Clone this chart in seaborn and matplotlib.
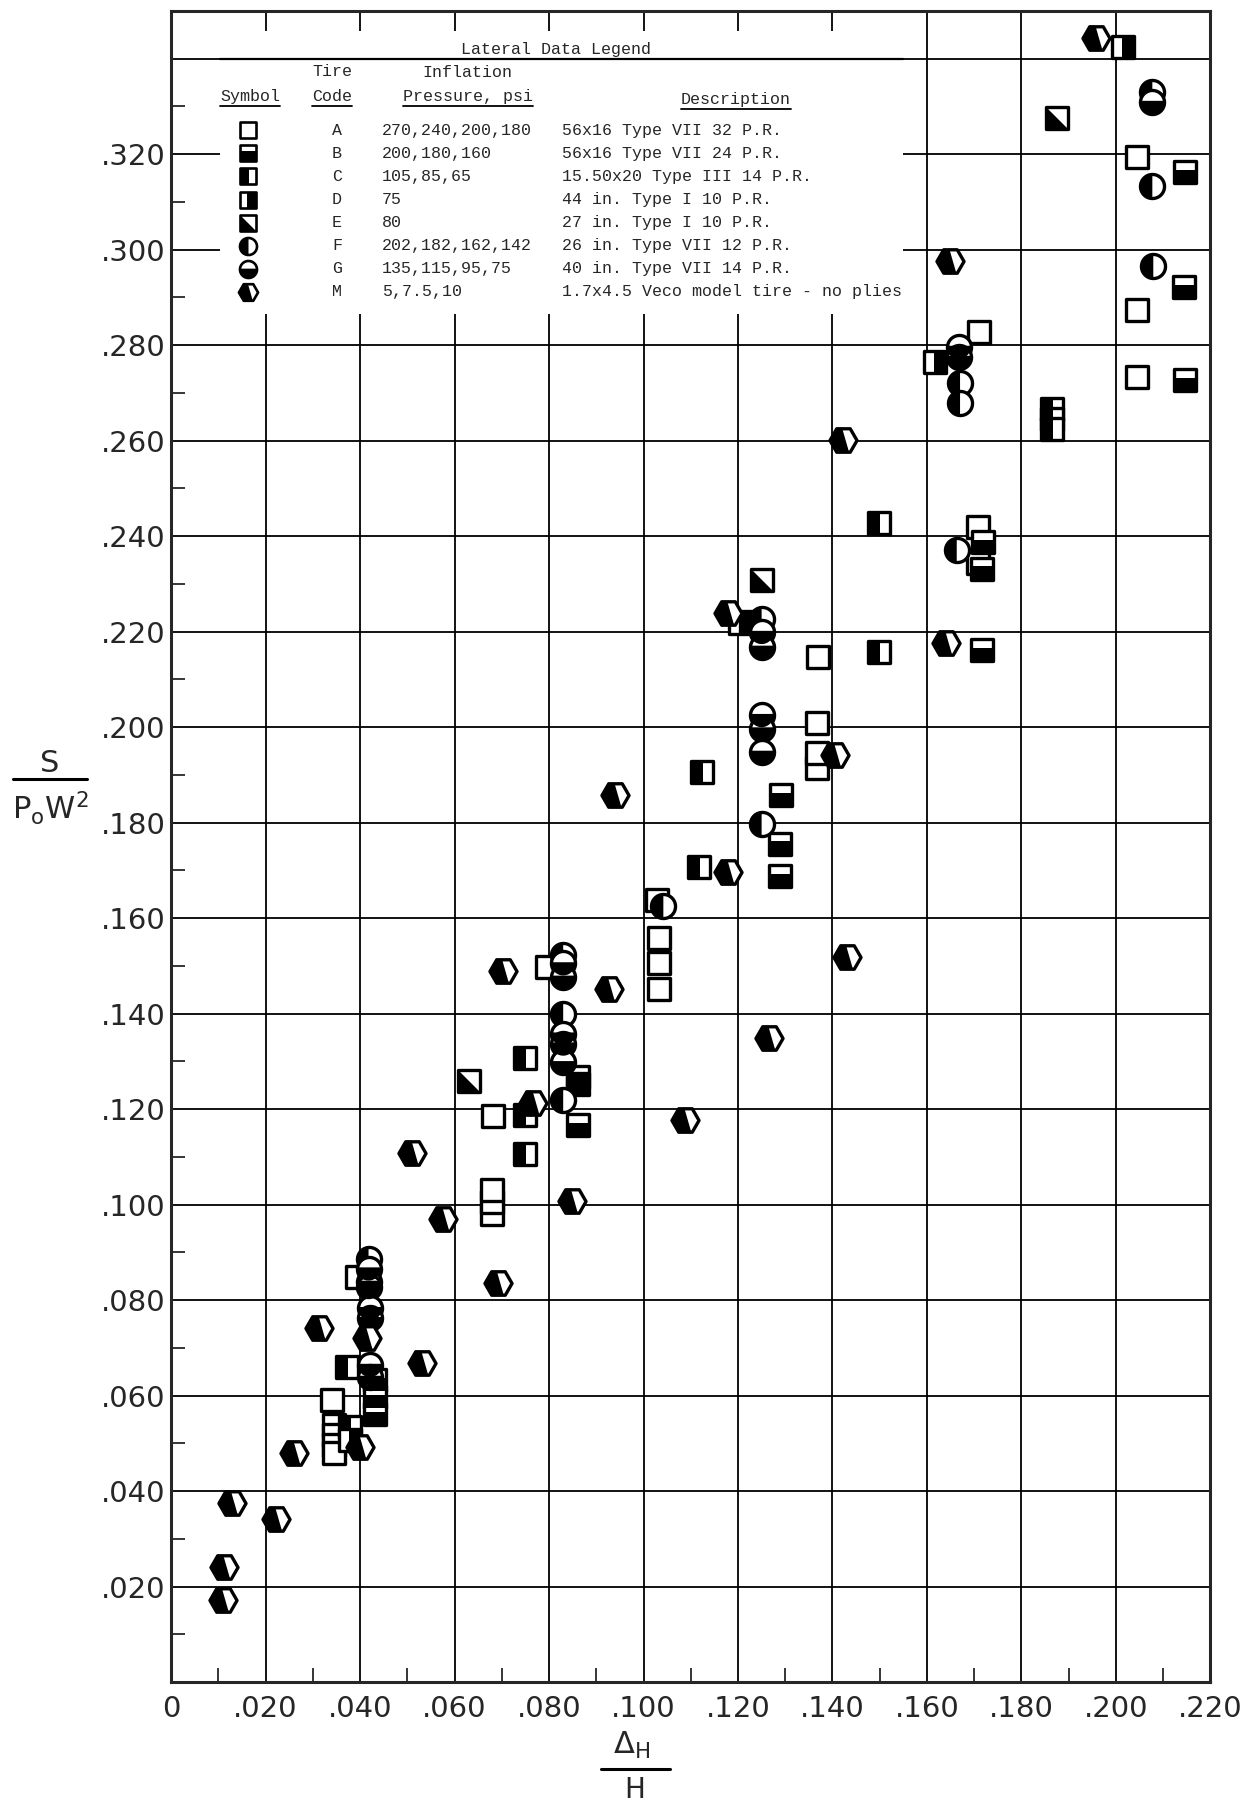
import numpy as np
import pandas as pd
import matplotlib
matplotlib.use("Agg")
import matplotlib.pyplot as plt
from matplotlib.path import Path
from matplotlib.lines import Line2D
from matplotlib.patches import Rectangle
from matplotlib.ticker import MultipleLocator, FuncFormatter
import seaborn as sns

# Data:  x = Delta_H / H ,  y = S / (p0 w^2)
a_x = [0.0341, 0.0344, 0.0344, 0.0344, 0.0344, 0.0393, 0.0679, 0.0679, 0.0679, 0.0682, 0.0795, 0.1029, 0.1033,
       0.1033, 0.1033, 0.1204, 0.1367, 0.1367, 0.1368, 0.1370, 0.1707, 0.1709, 0.1711, 0.2045, 0.2045, 0.2045]
a_y = [0.0591, 0.0538, 0.0517, 0.0496, 0.0479, 0.0849, 0.0981, 0.1006, 0.1030, 0.1185, 0.1497, 0.1638, 0.1558,
       0.1505, 0.1452, 0.2217, 0.1915, 0.1945, 0.2008, 0.2147, 0.2420, 0.2343, 0.2827, 0.3194, 0.2874, 0.2734]

b_x = [0.0432, 0.0432, 0.0432, 0.0862, 0.0862, 0.0862, 0.1289, 0.1289, 0.1291, 0.1716, 0.1716, 0.1719,
       0.2145, 0.2146, 0.2147]
b_y = [0.0632, 0.0597, 0.0562, 0.1268, 0.1252, 0.1166, 0.1688, 0.1756, 0.1858, 0.2161, 0.2332, 0.2388,
       0.2922, 0.3163, 0.2727]

c_x = [0.0372, 0.0379, 0.0749, 0.0749, 0.0749, 0.1118, 0.1123, 0.1228, 0.1499, 0.1499, 0.1864, 0.1864, 0.1864]
c_y = [0.0660, 0.0535, 0.1306, 0.1187, 0.1106, 0.1707, 0.1906, 0.2220, 0.2427, 0.2158, 0.2667, 0.2646, 0.2625]

d_x = [0.0379, 0.1617, 0.2015]
d_y = [0.0506, 0.2765, 0.3425]

e_x = [0.0631, 0.1250, 0.1876]
e_y = [0.1259, 0.2308, 0.3275]

f_x = [0.0418, 0.0830, 0.0830, 0.0830, 0.1042, 0.1250, 0.1250, 0.1663, 0.1670, 0.1670, 0.2077, 0.2077, 0.2079]
f_y = [0.0887, 0.1522, 0.1400, 0.1219, 0.1625, 0.1798, 0.2227, 0.2371, 0.2720, 0.2678, 0.3331, 0.3133, 0.2966]

g_x = [0.0418, 0.0418, 0.0418, 0.0421, 0.0421, 0.0421, 0.0421, 0.0830, 0.0830, 0.0830, 0.0830, 0.0830,
       0.1250, 0.1250, 0.1250, 0.1250, 0.1250, 0.1667, 0.1667, 0.2077]
g_y = [0.0866, 0.0838, 0.0827, 0.0783, 0.0762, 0.0664, 0.0639, 0.1505, 0.1477, 0.1358, 0.1337, 0.1298,
       0.2199, 0.2168, 0.2025, 0.1997, 0.1948, 0.2796, 0.2775, 0.3309]

m_x = [0.0109, 0.0112, 0.0128, 0.0222, 0.0261, 0.0314, 0.0400, 0.0414, 0.0511, 0.0531, 0.0576, 0.0691, 0.0702,
       0.0767, 0.0848, 0.0926, 0.0940, 0.1088, 0.1179, 0.1179, 0.1266, 0.1405, 0.1422, 0.1430, 0.1640, 0.1649, 0.1958]
m_y = [0.0172, 0.0241, 0.0376, 0.0341, 0.0479, 0.0741, 0.0493, 0.0720, 0.1107, 0.0669, 0.0969, 0.0836, 0.1489,
       0.1212, 0.1007, 0.1452, 0.1858, 0.1177, 0.2238, 0.1697, 0.1348, 0.1941, 0.2601, 0.1519, 0.2177, 0.2976, 0.3444]

# legend table text
tire_codes = ["A", "B", "C", "D", "E", "F", "G", "M"]
pressures = ["270,240,200,180", "200,180,160", "105,85,65", "75", "80",
             "202,182,162,142", "135,115,95,75", "5,7.5,10"]
descriptions = ["56x16 Type VII 32 P.R.", "56x16 Type VII 24 P.R.", "15.50x20 Type III 14 P.R.",
                "44 in. Type I 10 P.R.", "27 in. Type I 10 P.R.", "26 in. Type VII 12 P.R.",
                "40 in. Type VII 14 P.R.", "1.7x4.5 Veco model tire - no plies"]


### Marker shapes (outline + filled part)
### =====================================
def poly(pts):
    pts = list(pts) + [pts[0]]
    return Path(pts, [Path.MOVETO] + [Path.LINETO] * (len(pts) - 2) + [Path.CLOSEPOLY])


t = np.linspace(0, 2 * np.pi, 73)[:-1]
circle = poly(list(zip(np.cos(t), np.sin(t))))
square = poly([(-1, -1), (1, -1), (1, 1), (-1, 1)])
hexa = poly([(1, 0), (0.5, 0.866), (-0.5, 0.866), (-1, 0), (-0.5, -0.866), (0.5, -0.866)])

th = np.linspace(np.pi / 2, 3 * np.pi / 2, 37)
left_circle = poly(list(zip(np.cos(th), np.sin(th))))
ang0 = np.arcsin(0.1)
tb = np.linspace(np.pi - ang0, 2 * np.pi + ang0, 60)
bottom_circle = poly(list(zip(np.cos(tb), np.sin(tb))))
bottom_fill_sq = poly([(-1, -1), (1, -1), (1, 0.2), (-1, 0.2)])
left_fill_sq = poly([(-1, -1), (0.1, -1), (0.1, 1), (-1, 1)])
right_fill_sq = poly([(-0.1, -1), (1, -1), (1, 1), (-0.1, 1)])
tri_fill_sq = poly([(-1, 1), (-1, -1), (1, -1)])
hex_fill = poly([(-0.05, 0.866), (-0.5, 0.866), (-1, 0), (-0.5, -0.866), (0.45, -0.866)])

styles = {
    "A": (square, None, 250),
    "B": (square, bottom_fill_sq, 250),
    "C": (square, left_fill_sq, 250),
    "D": (square, right_fill_sq, 250),
    "E": (square, tri_fill_sq, 250),
    "F": (circle, left_circle, 300),
    "G": (circle, bottom_circle, 300),
    "M": (hexa, hex_fill, 380),
}

series = {"A": (a_x, a_y), "B": (b_x, b_y), "C": (c_x, c_y), "D": (d_x, d_y),
          "E": (e_x, e_y), "F": (f_x, f_y), "G": (g_x, g_y), "M": (m_x, m_y)}

sns.set_style("white")
plt.rcParams["font.family"] = ["DejaVu Sans"]
plt.rcParams["mathtext.fontset"] = "dejavusans"

fig = plt.figure(figsize=(12.55, 18.05), dpi=100)
ax = fig.add_axes([0.1363, 0.0681, 0.8282, 0.9259])

# draw every tire code: white outline marker, then its black part
for code, (xs, ys) in series.items():
    outline, fill, size = styles[code]
    df = pd.DataFrame({"x": xs, "y": ys})
    sns.scatterplot(data=df, x="x", y="y", marker=outline, s=size, facecolor="white",
                    edgecolor="black", linewidth=2.4, zorder=3, ax=ax, legend=False)
    if fill is not None:
        sns.scatterplot(data=df, x="x", y="y", marker=fill, s=size, color="black",
                        edgecolor="none", linewidth=0, zorder=3, ax=ax, legend=False)

# axes, grid and ticks
ax.set_xlim(0, 0.22)
ax.set_ylim(0, 0.35)
ax.xaxis.set_major_locator(MultipleLocator(0.02))
ax.xaxis.set_minor_locator(MultipleLocator(0.01))
ax.yaxis.set_major_locator(MultipleLocator(0.02))
ax.yaxis.set_minor_locator(MultipleLocator(0.01))
ax.grid(True, which="major", color="black", linewidth=1.3)
ax.set_axisbelow(True)


def fmt(v, pos):
    if abs(v) < 1e-9:
        return "0"
    return f"{v:.3f}".lstrip("0")


ax.xaxis.set_major_formatter(FuncFormatter(fmt))
ax.yaxis.set_major_formatter(FuncFormatter(lambda v, p: "" if (v < 0.01 or v > 0.33) else fmt(v, p)))
ax.tick_params(which="major", length=0, labelsize=21, pad=9)
ax.tick_params(axis="y", which="major", pad=4)
ax.tick_params(which="minor", direction="in", length=10, width=1.3, left=True, bottom=True)
for s in ax.spines.values():
    s.set_linewidth(2.2)
ax.set_xlabel("")
ax.set_ylabel("")

# legend table
lx0, lx1 = 0.0104, 0.155
ax.add_patch(Rectangle((lx0, 0.2865), lx1 - lx0, 0.3458 - 0.2865, facecolor="white",
                       edgecolor="none", zorder=1.5))
ax.plot([lx0, lx1], [0.340, 0.340], color="black", linewidth=1.6, zorder=1.6)
mono = "Liberation Mono"
fs = 12
ax.text(0.0815, 0.3404, "Lateral Data Legend", family=mono, fontsize=fs, ha="center", va="bottom", zorder=4)
ax.text(0.0341, 0.3372, "Tire", family=mono, fontsize=fs, ha="center", va="center", zorder=4)
ax.text(0.0628, 0.3370, "Inflation", family=mono, fontsize=fs, ha="center", va="center", zorder=4)
heads = [ax.text(0.0168, 0.3321, "Symbol", family=mono, fontsize=fs, ha="center", va="center", zorder=4),
         ax.text(0.0341, 0.3321, "Code", family=mono, fontsize=fs, ha="center", va="center", zorder=4),
         ax.text(0.0628, 0.3321, "Pressure, psi", family=mono, fontsize=fs, ha="center", va="center", zorder=4),
         ax.text(0.1196, 0.3314, "Description", family=mono, fontsize=fs, ha="center", va="center", zorder=4)]

row_y = 0.3250
for i, code in enumerate(tire_codes):
    yy = row_y - i * 0.00484
    outline, fill, size = styles[code]
    ax.scatter([0.0162], [yy], marker=outline, s=size * 0.5, facecolor="white", edgecolor="black",
               linewidth=1.9, zorder=4)
    if fill is not None:
        ax.scatter([0.0162], [yy], marker=fill, s=size * 0.5, color="black", linewidth=0, zorder=4)
    ax.text(0.0351, yy, code, family=mono, fontsize=fs, ha="center", va="center", zorder=4)
    ax.text(0.0447, yy, pressures[i], family=mono, fontsize=fs, ha="left", va="center", zorder=4)
    ax.text(0.0827, yy, descriptions[i], family=mono, fontsize=fs, ha="left", va="center", zorder=4)

# underline the column headings
fig.canvas.draw()
inv = ax.transData.inverted()
for h in heads:
    bb = h.get_window_extent()
    (x0, y0), (x1, _) = inv.transform([(bb.x0, bb.y0), (bb.x1, bb.y1)])
    ax.plot([x0, x1], [y0 - 0.0004, y0 - 0.0004], color="black", linewidth=1.3, zorder=4)

# axis titles written as stacked fractions
fig.text(50 / 1255, 1 - 763 / 1805, "S", fontsize=22, ha="center", va="center")
fig.add_artist(Line2D([13 / 1255, 87 / 1255], [1 - 779 / 1805] * 2, color="black", linewidth=2.2))
fig.text(50 / 1255, 1 - 808 / 1805, r"P$_{\mathrm{o}}$W$^{2}$", fontsize=22, ha="center", va="center")

fig.text(632 / 1255, 1 - 1745 / 1805, r"$\Delta_{\mathrm{H}}$", fontsize=22, ha="center", va="center")
fig.add_artist(Line2D([601 / 1255, 670 / 1255], [1 - 1769 / 1805] * 2, color="black", linewidth=2.2))
fig.text(635 / 1255, 1 - 1790 / 1805, "H", fontsize=20, ha="center", va="center")

fig.savefig("out.png", dpi=100)
